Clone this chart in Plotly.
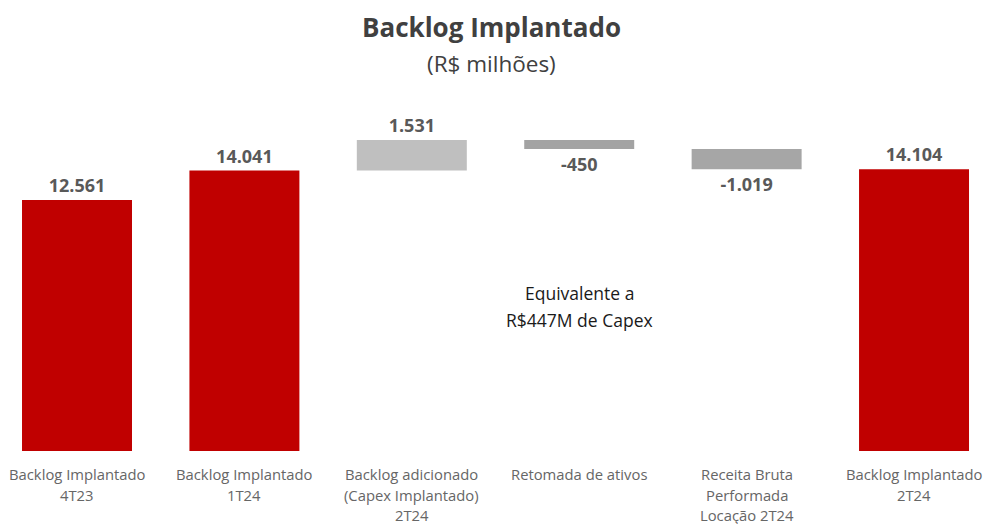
import plotly.graph_objects as go

categories = ["Backlog Implantado 4T23", "Backlog Implantado 1T24",
              "Backlog adicionado (Capex Implantado) 2T24", "Retomada de ativos",
              "Receita Bruta Performada Locação 2T24", "Backlog Implantado 2T24"]
category_lines = [["Backlog Implantado", "4T23"],
                  ["Backlog Implantado", "1T24"],
                  ["Backlog adicionado", "(Capex Implantado)", "2T24"],
                  ["Retomada de ativos"],
                  ["Receita Bruta", "Performada", "Locação 2T24"],
                  ["Backlog Implantado", "2T24"]]
values = [12561, 14041, 1531, -450, -1019, 14104]
measures = ["absolute", "absolute", "relative", "relative", "relative", "absolute"]
colors = ["#C00000", "#C00000", "#BFBFBF", "#A3A3A3", "#A6A6A6", "#C00000"]
note_lines = ["Equivalente a", "R$447M de Capex"]


def fmt(v):
    s = f"{abs(v):,}".replace(",", ".")
    return ("-" if v < 0 else "") + s


# waterfall bases
bases = []
running = 0
for v, m in zip(values, measures):
    if m == "absolute":
        bases.append(0)
        running = v
    else:
        bases.append(running)
        running += v

x_idx = list(range(len(categories)))

fig = go.Figure()
fig.add_trace(go.Bar(
    x=x_idx, y=values, base=bases,
    marker=dict(color=colors, line=dict(width=0)),
    text=[fmt(v) for v in values],
    textposition="outside",
    textfont=dict(family="Open Sans", size=18, color="#595959", weight="bold"),
    cliponaxis=False,
    hoverinfo="skip",
))

annotations = []
for i, lines in enumerate(category_lines):
    for j, line in enumerate(lines):
        annotations.append(dict(
            x=i, xref="x", y=0, yref="paper", yanchor="middle",
            yshift=-(23 + 20.5 * j), text=line, showarrow=False,
            font=dict(family="Open Sans", size=14.8, color="#666666")))

annotations.append(dict(x=3, xref="x", y=7908, yref="y", text=note_lines[0],
                        showarrow=False, font=dict(family="Open Sans", size=17.5, color="#1a1a1a")))
annotations.append(dict(x=3, xref="x", y=6557, yref="y", text=note_lines[1],
                        showarrow=False, font=dict(family="Open Sans", size=17.5, color="#1a1a1a")))
annotations.append(dict(x=0.5, xref="paper", y=1.1026, yref="paper", yanchor="middle",
                        text="(R$ milhões)", showarrow=False,
                        font=dict(family="Open Sans", size=22.5, color="#404040")))

fig.update_layout(
    width=983, height=524,
    margin=dict(l=0, r=0, t=100, b=73),
    paper_bgcolor="white", plot_bgcolor="white",
    title=dict(text="<b>Backlog Implantado</b>", x=0.5, xanchor="center",
               y=1 - 28 / 524, yanchor="middle", yref="container",
               font=dict(family="Open Sans", size=26, color="#404040")),
    bargap=0.343,
    showlegend=False,
    xaxis=dict(range=[-0.46, 5.412], showticklabels=False, showgrid=False,
               zeroline=False, showline=False, ticks=""),
    yaxis=dict(range=[0, 17570], visible=False, showgrid=False, zeroline=False),
    annotations=annotations,
)

fig.write_html("out.html", config={"displayModeBar": False},
               post_script="document.body.style.margin='0';document.body.style.overflow='hidden';")
